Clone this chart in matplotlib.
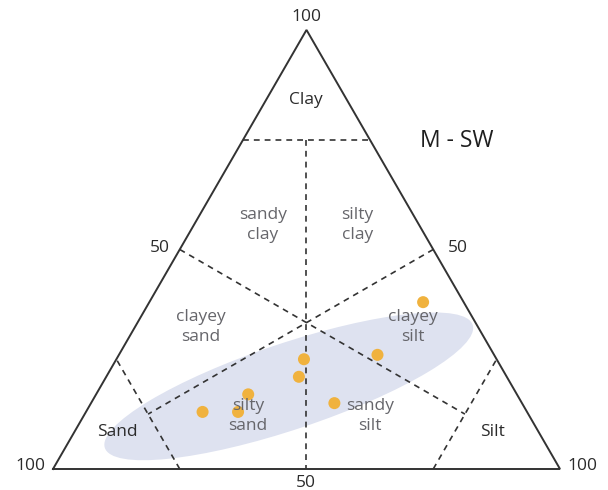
import numpy as np
import matplotlib
matplotlib.use('Agg')
import matplotlib.pyplot as plt
from matplotlib.patches import Ellipse

plt.rcParams['font.family'] = ['Open Sans', 'DejaVu Sans']

# samples, percent (sand, silt, clay)
sand = [64, 57, 53, 41, 38, 37, 23, 8]
silt = [23, 30, 30, 38, 37, 48, 51, 54]
clay = [13, 13, 17, 21, 25, 15, 26, 38]

title = 'M - SW'
region_labels = ['Clay', 'sandy\nclay', 'silty\nclay', 'clayey\nsand', 'clayey\nsilt',
                 'silty\nsand', 'sandy\nsilt', 'Sand', 'Silt']

H = np.sqrt(3) / 2


def tern(sa, si, cl):
    sa, si, cl = np.asarray(sa, float), np.asarray(si, float), np.asarray(cl, float)
    tot = sa + si + cl
    return (si + cl / 2) / tot, cl * H / tot


fig = plt.figure(figsize=(6.08, 4.9), dpi=100)
ax = fig.add_axes([0, 0, 1, 1])
ax.set_xlim(-53 / 507, 555 / 507)
ax.set_ylim(-21 / 507, 469 / 507)
ax.set_aspect('equal')
ax.axis('off')

# envelope of samples
ax.add_patch(Ellipse((0.465, 0.163), 0.765, 0.17, angle=18.5,
                     facecolor='#dee2f0', edgecolor='none', zorder=1))

# outer triangle
ax.plot([0, 1, 0.5, 0], [0, 0, H, 0], color='#333333', lw=1.4, zorder=3,
        solid_joinstyle='miter')

# class boundaries
dash = dict(color='#333333', lw=1.2, dashes=(3.5, 3), zorder=2)
segs = [((25, 0, 75), (0, 25, 75)),      # clay 75
        ((12.5, 12.5, 75), (50, 50, 0)),  # sand = silt
        ((50, 0, 50), (12.5, 75, 12.5)),  # sand = clay
        ((0, 50, 50), (75, 12.5, 12.5)),  # silt = clay
        ((75, 25, 0), (75, 0, 25)),      # sand 75
        ((25, 75, 0), (0, 75, 25))]      # silt 75
for a, b in segs:
    xs, ys = tern([a[0], b[0]], [a[1], b[1]], [a[2], b[2]])
    ax.plot(xs, ys, **dash)

# samples
px, py = tern(sand, silt, clay)
ax.scatter(px, py, s=75, color='#f0b23e', edgecolors='none', zorder=4)

# labels
pos = [(0.499, 0.728), (0.414, 0.481), (0.600, 0.481), (0.292, 0.280), (0.710, 0.280),
       (0.385, 0.105), (0.625, 0.105), (0.126, 0.073), (0.866, 0.073)]
for i, (lab, (x, y)) in enumerate(zip(region_labels, pos)):
    c = '#2b2b2b' if i in (0, 7, 8) else '#66666b'
    ax.text(x, y, lab, ha='center', va='center', fontsize=12.5, color=c,
            linespacing=1.35, zorder=5)

ax.text(0.797, 0.647, title, ha='center', va='center', fontsize=16.5, color='#1e1e1e')

ticks = [('100', 0.5, 0.8915), ('100', -0.0454, 0.006), ('100', 1.045, 0.006),
         ('50', 0.211, 0.436), ('50', 0.799, 0.436), ('50', 0.499, -0.028)]
for t, x, y in ticks:
    ax.text(x, y, t, ha='center', va='center', fontsize=12.5, color='#2b2b2b')

fig.savefig('out.png', dpi=100, facecolor='white')
